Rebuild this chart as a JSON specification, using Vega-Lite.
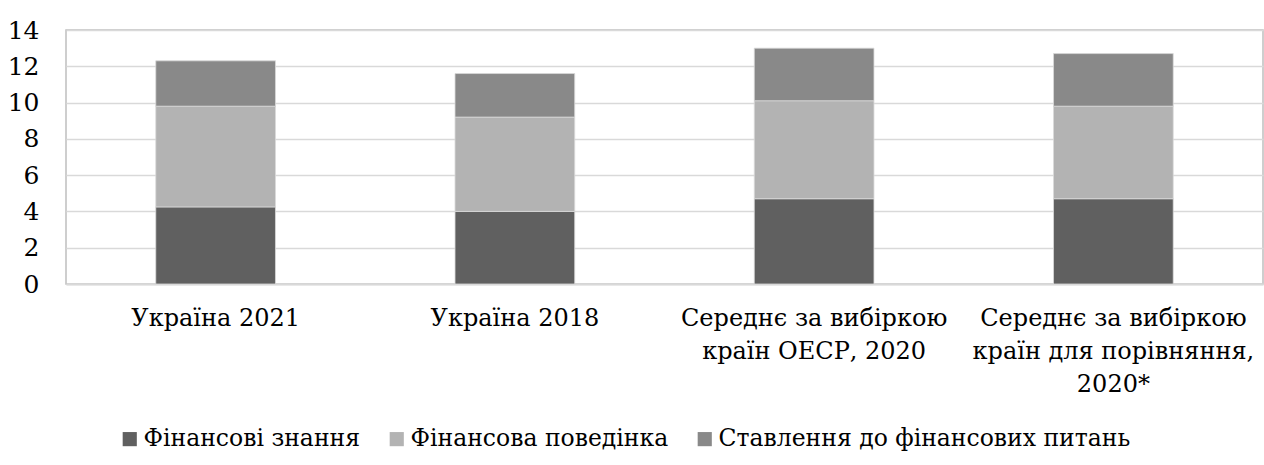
{
  "$schema": "https://vega.github.io/schema/vega-lite/v6.json",
  "autosize": "none",
  "width": 1197,
  "height": 254,
  "padding": {"left": 66, "top": 30, "right": 1, "bottom": 181},
  "background": "white",
  "config": {
    "font": "DejaVu Serif",
    "view": {"stroke": "#bfbfbf", "strokeWidth": 1.5}
  },
  "data": {
    "values": [
      {"group": "Україна 2021", "indicator": "Фінансові знання", "value": 4.25},
      {"group": "Україна 2021", "indicator": "Фінансова поведінка", "value": 5.55},
      {"group": "Україна 2021", "indicator": "Ставлення до фінансових питань", "value": 2.5},
      {"group": "Україна 2018", "indicator": "Фінансові знання", "value": 4.0},
      {"group": "Україна 2018", "indicator": "Фінансова поведінка", "value": 5.2},
      {"group": "Україна 2018", "indicator": "Ставлення до фінансових питань", "value": 2.4},
      {"group": "Середнє за вибіркою країн ОЕСР, 2020", "indicator": "Фінансові знання", "value": 4.7},
      {"group": "Середнє за вибіркою країн ОЕСР, 2020", "indicator": "Фінансова поведінка", "value": 5.4},
      {"group": "Середнє за вибіркою країн ОЕСР, 2020", "indicator": "Ставлення до фінансових питань", "value": 2.9},
      {"group": "Середнє за вибіркою країн для порівняння, 2020*", "indicator": "Фінансові знання", "value": 4.7},
      {"group": "Середнє за вибіркою країн для порівняння, 2020*", "indicator": "Фінансова поведінка", "value": 5.1},
      {"group": "Середнє за вибіркою країн для порівняння, 2020*", "indicator": "Ставлення до фінансових питань", "value": 2.9}
    ]
  },
  "mark": {"type": "bar", "stroke": "#d9d9d9", "strokeWidth": 0.8},
  "encoding": {
    "x": {
      "field": "group",
      "type": "nominal",
      "sort": null,
      "scale": {"paddingInner": 0.6, "paddingOuter": 0.3},
      "axis": {
        "title": null,
        "labelAngle": 0,
        "labelFont": "DejaVu Serif",
        "labelFontSize": 24,
        "labelColor": "#000000",
        "labelLineHeight": 33,
        "labelPadding": 22,
        "labelBaseline": "top",
        "ticks": false,
        "domainColor": "#d9d9d9",
        "domainWidth": 2,
        "labelLimit": 400,
        "labelExpr": "datum.label == 'Середнє за вибіркою країн ОЕСР, 2020' ? ['Середнє за вибіркою', 'країн ОЕСР, 2020'] : datum.label == 'Середнє за вибіркою країн для порівняння, 2020*' ? ['Середнє за вибіркою', 'країн для порівняння,', '2020*'] : datum.label"
      }
    },
    "y": {
      "field": "value",
      "type": "quantitative",
      "stack": "zero",
      "scale": {"domain": [0, 14], "nice": false},
      "axis": {
        "title": null,
        "values": [0, 2, 4, 6, 8, 10, 12, 14],
        "labelFont": "DejaVu Serif",
        "labelFontSize": 25,
        "labelColor": "#000000",
        "labelPadding": 27,
        "ticks": false,
        "domain": false,
        "gridColor": "#d9d9d9",
        "gridWidth": 1.5
      }
    },
    "color": {
      "field": "indicator",
      "type": "nominal",
      "sort": ["Фінансові знання", "Фінансова поведінка", "Ставлення до фінансових питань"],
      "scale": {
        "domain": ["Фінансові знання", "Фінансова поведінка", "Ставлення до фінансових питань"],
        "range": ["#606060", "#b3b3b3", "#898989"]
      },
      "legend": {
        "title": null,
        "orient": "none",
        "legendX": 52,
        "legendY": 397,
        "direction": "horizontal",
        "columns": 3,
        "symbolType": "square",
        "symbolSize": 200,
        "symbolStrokeWidth": 0,
        "labelFont": "DejaVu Serif",
        "labelFontSize": 23.5,
        "labelColor": "#000000",
        "labelOffset": 2,
        "columnPadding": 24,
        "labelLimit": 700
      }
    },
    "order": {"field": "indicator", "sort": "descending"}
  }
}
